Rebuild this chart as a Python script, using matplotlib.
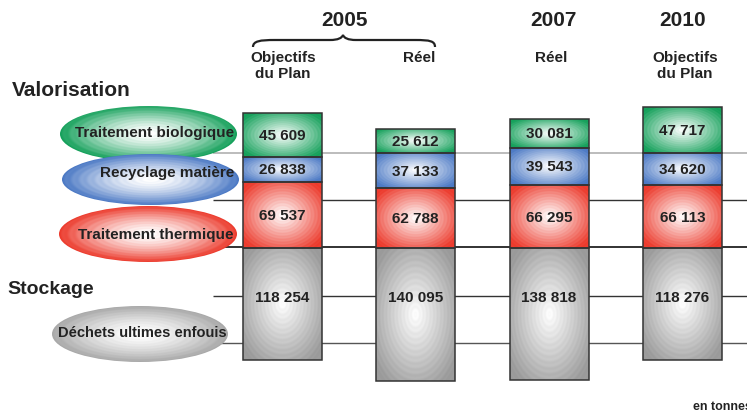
import numpy as np
import matplotlib
matplotlib.use("Agg")
import matplotlib.pyplot as plt
from matplotlib.patches import Rectangle, Ellipse, PathPatch
from matplotlib.path import Path
from matplotlib.colors import to_rgb

plt.rcParams['font.family'] = ['Liberation Sans', 'DejaVu Sans']

# tonnages per column (2005 plan, 2005 real, 2007 real, 2010 plan)
biologique = [45609, 25612, 30081, 47717]
recyclage = [26838, 37133, 39543, 34620]
thermique = [69537, 62788, 66295, 66113]
enfouis = [118254, 140095, 138818, 118276]

years = ["2005", "2007", "2010"]
col_labels = ["Objectifs\ndu Plan", "Réel", "Réel", "Objectifs\ndu Plan"]
filieres = ["Traitement biologique", "Recyclage matière", "Traitement thermique", "Déchets ultimes enfouis"]

GREEN = "#14a05a"
BLUE = "#4a78c4"
RED = "#ec3a2c"
GREY = "#9a9a9a"
INK = "#222222"


def fmt(v):
    return f"{v:,}".replace(",", " ")


def radial_fill(ax, x0, y0, w, h, color, clip, z, ellipse=False):
    yy, xx = np.mgrid[-1:1:240j, -1:1:240j]
    d = np.sqrt(xx ** 2 + yy ** 2)
    if ellipse:
        t = np.clip(d / 1.0, 0, 1) ** 1.5
    else:
        t = np.clip(d / 1.25, 0, 1) ** 1.0
    t = np.clip(t + 0.035 * np.sin(d * 70), 0, 1)
    c = np.array(to_rgb(color))
    rgb = (1 - t[..., None]) * np.ones(3) + t[..., None] * c
    im = ax.imshow(rgb, extent=[x0, x0 + w, y0, y0 + h], origin="lower",
                   aspect="auto", interpolation="bilinear", zorder=z)
    im.set_clip_path(clip)
    return im


fig = plt.figure(figsize=(7.47, 4.14), dpi=100)

# pixel-space layer for the decoration (lines, ellipses, headings)
axp = fig.add_axes([0, 0, 1, 1], zorder=0)
axp.set_xlim(0, 747)
axp.set_ylim(414, 0)
axp.axis("off")

# data layer: tonnes, valorisation above 0, stockage below
ax = fig.add_axes([0, 0, 1, 1], zorder=1)
ax.patch.set_visible(False)
px_per_t = 0.948 / 1000
ax.set_ylim((249 - 414) / px_per_t, 249 / px_per_t)
ax.set_xlim(-282 / 133.5, (747 - 282) / 133.5)
ax.axis("off")

# horizontal guide lines
for y, col, lw in [(154, "#b0b0b0", 1.2), (201, "#333333", 1.0), (248, "#222222", 1.3),
                   (297, "#333333", 1.0), (344, "#555555", 1.0)]:
    axp.plot([213, 747], [y, y], color=col, lw=lw, zorder=1, solid_capstyle="butt")

# ellipses with their labels
ell = [(148.5, 135, 177, 56, GREEN, 234, 133, "right", 11),
       (150.5, 180.5, 177, 51, BLUE, 234, 173, "right", 11),
       (148, 235, 178, 56, RED, 234, 235, "right", 11),
       (140, 335, 176, 56, "#a8a8a8", 142, 333, "center", 10.5)]
for (cx, cy, w, h, col, tx, ty, ha, fs), name in zip(ell, filieres):
    e = Ellipse((cx, cy), w, h, facecolor="none", edgecolor="none")
    axp.add_patch(e)
    radial_fill(axp, cx - w / 2, cy + h / 2, w, -h, col, e, 2, ellipse=True)
    axp.text(tx, ty, name, ha=ha, va="center", fontsize=fs, fontweight="bold",
             color=INK, zorder=3)

# stacked columns
x = np.arange(len(enfouis))
width = 79 / 133.5
for i in x:
    base = 0
    for vals, col in [(thermique, RED), (recyclage, BLUE), (biologique, GREEN)]:
        v = vals[i]
        r = Rectangle((i - width / 2, base), width, v, facecolor="none",
                      edgecolor="#333333", lw=1.1, zorder=4)
        ax.add_patch(r)
        radial_fill(ax, i - width / 2, base, width, v, col, r, 3)
        ax.text(i, base + v / 2, fmt(v), ha="center", va="center", fontsize=11,
                fontweight="bold", color=INK, zorder=5)
        base += v
    v = enfouis[i]
    r = Rectangle((i - width / 2, -v), width, v, facecolor="none",
                  edgecolor="#333333", lw=1.1, zorder=4)
    ax.add_patch(r)
    radial_fill(ax, i - width / 2, -v, width, v, GREY, r, 3)
    ax.text(i, -52000, fmt(v), ha="center", va="center", fontsize=11,
            fontweight="bold", color=INK, zorder=5)

# headings
axp.text(12, 90, "Valorisation", ha="left", va="center", fontsize=15, fontweight="bold", color=INK)
axp.text(7, 290, "Stockage", ha="left", va="center", fontsize=14, fontweight="bold", color=INK)

for xc, yr in zip([345, 553, 683], years):
    axp.text(xc, 21, yr, ha="center", va="center", fontsize=15, fontweight="bold", color=INK)

for xc, lab in zip([283, 419, 551, 685], col_labels):
    axp.text(xc, 51, lab, ha="center", va="top", fontsize=11, fontweight="bold",
             color=INK, linespacing=1.15)

# brace over the two 2005 columns
verts = [(253, 48), (253, 42), (260, 41), (275, 41), (330, 41),
         (338, 41), (342, 39), (343, 36),
         (344, 39), (348, 41), (356, 41), (415, 41),
         (430, 41), (435, 42), (435, 48)]
codes = [Path.MOVETO, Path.CURVE4, Path.CURVE4, Path.CURVE4, Path.LINETO,
         Path.CURVE4, Path.CURVE4, Path.CURVE4,
         Path.CURVE4, Path.CURVE4, Path.CURVE4, Path.LINETO,
         Path.CURVE4, Path.CURVE4, Path.CURVE4]
axp.add_patch(PathPatch(Path(verts, codes), facecolor="none", edgecolor=INK, lw=1.6))

axp.text(693, 410, "en tonnes", ha="left", va="baseline", fontsize=9, fontweight="bold", color=INK)

fig.savefig("out.png", dpi=100)
